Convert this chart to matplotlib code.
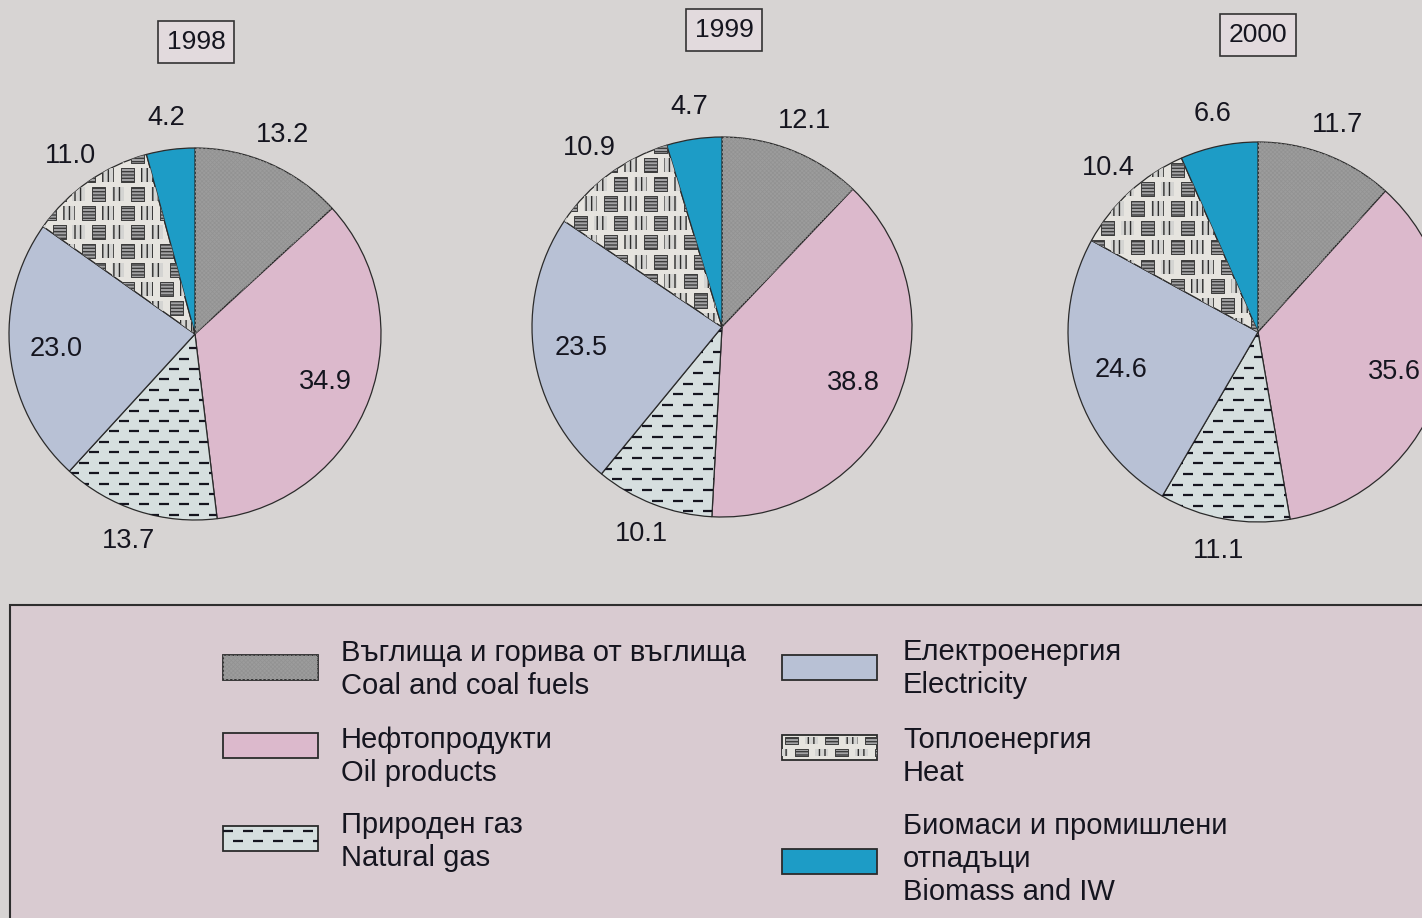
import matplotlib.pyplot as plt
import numpy as np
from matplotlib.collections import LineCollection, PatchCollection
from matplotlib.patches import Rectangle, Wedge

plt.rcParams['font.family'] = ['Liberation Sans', 'DejaVu Sans']
plt.rcParams['hatch.linewidth'] = 1.0
plt.rcParams['hatch.color'] = '#2e2e2e'

# shares of final energy consumption, %
years = ['1998', '1999', '2000']
coal = [13.2, 12.1, 11.7]
oil = [34.9, 38.8, 35.6]
gas = [13.7, 10.1, 11.1]
electricity = [23.0, 23.5, 24.6]
heat = [11.0, 10.9, 10.4]
biomass = [4.2, 4.7, 6.6]

labels_bg = ['Въглища и горива от въглища', 'Нефтопродукти', 'Природен газ',
             'Електроенергия', 'Топлоенергия', 'Биомаси и промишлени\nотпадъци']
labels_en = ['Coal and coal fuels', 'Oil products', 'Natural gas',
             'Electricity', 'Heat', 'Biomass and IW']

colors = ['#9c9c9c', '#dcb9cc', '#d6dfdf', '#b8c1d5', '#e6e4df', '#1d9cc6']
outside = [True, False, True, False, True, True]
ink = '#15151f'
W, H = 1422, 918

# pixel layout
centers = [(195, 334), (722, 327), (1258, 332)]
radii = [186, 190, 190]
year_pos = [(196, 42), (724, 30), (1258, 35)]


def dash_texture(ax, clip, box, row, pitch, dash, lw):
    (x0, y0), (x1, y1) = box
    segs = []
    for i, y in enumerate(np.arange(y0 + row / 2, y1, row)):
        shift = pitch / 2 if i % 2 else 0
        for x in np.arange(x0 - pitch + shift, x1, pitch):
            segs.append([(x, y), (x + dash, y)])
    lc = LineCollection(segs, colors=ink, linewidths=lw, zorder=3)
    ax.add_collection(lc)
    lc.set_clip_path(clip)


def brick_texture(ax, clip, box, px, py, cw, ch):
    (x0, y0), (x1, y1) = box
    flat, tall = [], []
    for i, y in enumerate(np.arange(y0, y1, py)):
        for j, x in enumerate(np.arange(x0 - px + (px / 2) * (i % 2), x1, px)):
            (flat if j % 2 else tall).append(Rectangle((x, y), cw, ch))
    pc = PatchCollection(flat, facecolor='#a4a4a6', edgecolor='#3c3c3c',
                         linewidth=0.7, hatch='-----', zorder=3)
    ax.add_collection(pc)
    pc.set_clip_path(clip)
    pc = PatchCollection(tall, facecolor='#d4d4d2', edgecolor='#2e2e2e',
                         linewidth=0, hatch='|||', zorder=3)
    ax.add_collection(pc)
    pc.set_clip_path(clip)


def cross_texture(patch):
    patch.set_hatch('xxxxxxxx')
    patch.set_edgecolor('#929292')
    patch.set_linewidth(0)


fig = plt.figure(figsize=(W / 100, H / 100), dpi=100, facecolor='#d7d4d3')

# background / legend layer in pixel coordinates
lax = fig.add_axes([0, 0, 1, 1], zorder=0)
lax.set_xlim(0, W)
lax.set_ylim(H, 0)
lax.axis('off')
lax.add_patch(Rectangle((10, 605), W + 40, 340, facecolor='#d9cbd1',
                        edgecolor='#2e2e2e', linewidth=1.5))

for k, year in enumerate(years):
    cx, cy = centers[k]
    R = radii[k]
    ax = fig.add_axes([(cx - 1.3 * R) / W, (H - cy - 1.3 * R) / H,
                       2.6 * R / W, 2.6 * R / H], zorder=1)
    ax.set_facecolor('none')
    vals = [coal[k], oil[k], gas[k], electricity[k], heat[k], biomass[k]]
    wedges, _ = ax.pie(vals, startangle=90, counterclock=False, colors=colors,
                       wedgeprops=dict(edgecolor='#2b2b2b', linewidth=0.9))
    ax.set_xlim(-1.3, 1.3)
    ax.set_ylim(-1.3, 1.3)
    ax.set_aspect('equal')
    ax.axis('off')

    w = wedges[0]
    with plt.rc_context({'hatch.linewidth': 0.5}):
        over = Wedge((0, 0), 1, w.theta1, w.theta2, fill=False, zorder=2)
        cross_texture(over)
    ax.add_patch(over)
    box = wedges[2].get_path().get_extents().get_points()
    dash_texture(ax, wedges[2], box, 0.056, 0.107, 0.054, 1.6)
    box = wedges[4].get_path().get_extents().get_points()
    brick_texture(ax, wedges[4], box, 0.105, 0.102, 0.068, 0.075)

    for wd, v, out in zip(wedges, vals, outside):
        ang = np.deg2rad((wd.theta1 + wd.theta2) / 2)
        d = 1.17 if out else 0.75
        ax.text(d * np.cos(ang), d * np.sin(ang), f'{v:.1f}', ha='center',
                va='center', fontsize=19.5, color=ink, zorder=5)

    yx, yy = year_pos[k]
    lax.text(yx, yy, year, ha='center', va='center', fontsize=19, color=ink,
             bbox=dict(boxstyle='square,pad=0.33', facecolor='#e2dadd',
                       edgecolor='#333333', linewidth=1.2))

# legend
col_x = [(223, 341), (223, 341), (223, 341), (782, 903), (782, 903), (782, 903)]
text_y = [653, 740, 825, 652, 740, 826]
swatch_y = [667, 745, 838, 667, 747, 861]
for i in range(6):
    sx, tx = col_x[i]
    sw = Rectangle((sx, swatch_y[i] - 12.5), 95, 25, facecolor=colors[i],
                   edgecolor='#2b2b2b', linewidth=1.3, zorder=2)
    lax.add_patch(sw)
    bb = ((sx, swatch_y[i] - 12.5), (sx + 95, swatch_y[i] + 12.5))
    if i == 0:
        with plt.rc_context({'hatch.linewidth': 0.5}):
            over = Rectangle(bb[0], 95, 25, fill=False, zorder=3)
            cross_texture(over)
        lax.add_patch(over)
    elif i == 2:
        dash_texture(lax, sw, bb, 10.5, 20, 10, 1.6)
    elif i == 4:
        brick_texture(lax, sw, ((sx + 3, swatch_y[i] - 10), bb[1]), 20, 12, 13, 7)
    lines = labels_bg[i].split('\n') + [labels_en[i]]
    for j, line in enumerate(lines):
        lax.text(tx, text_y[i] + 33 * j, line, ha='left', va='center',
                 fontsize=21, color=ink)

fig.savefig('out.png', dpi=100, facecolor=fig.get_facecolor())
